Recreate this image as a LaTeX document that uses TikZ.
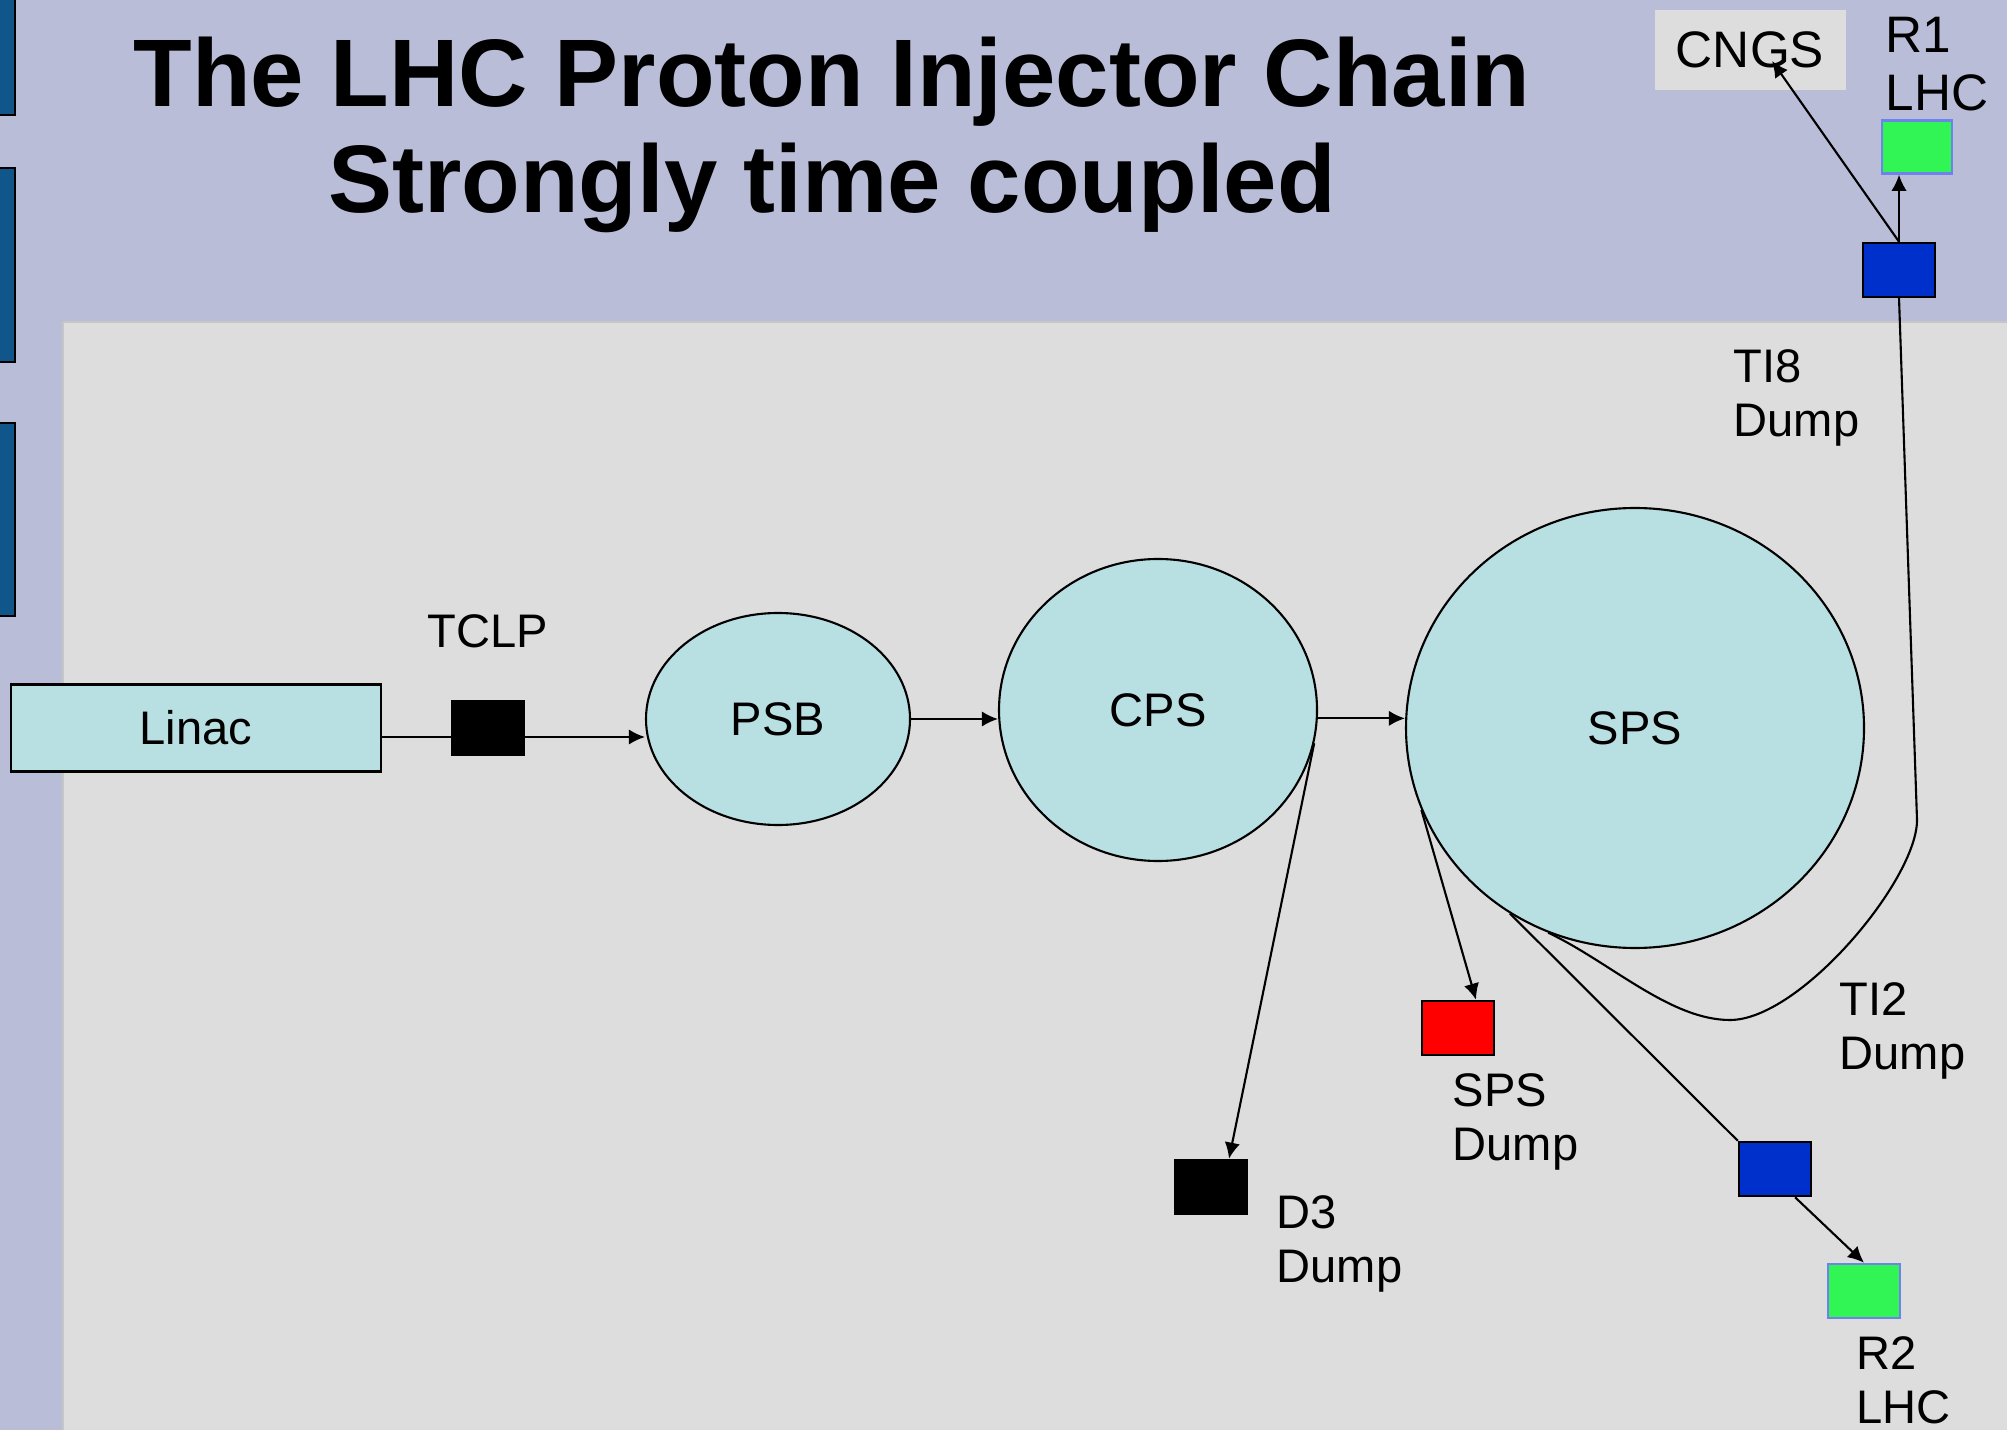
\documentclass[tikz,border=0pt]{standalone}
\usepackage{fontspec}
\setmainfont{Liberation Sans}
\usepackage{tikz}
\usetikzlibrary{shapes.geometric, arrows.meta, positioning}
\definecolor{slidebg}{RGB}{185, 189, 216}
\definecolor{panelbg}{RGB}{221, 221, 221}
\definecolor{panelrim}{RGB}{198, 198, 198}
\definecolor{ringfill}{RGB}{184, 224, 227}
\definecolor{barblue}{RGB}{16, 86, 138}
\definecolor{kickblue}{RGB}{0, 48, 204}
\definecolor{lhcgreen}{RGB}{48, 245, 85}
\definecolor{lhcrim}{RGB}{110, 130, 235}
\definecolor{dumpred}{RGB}{255, 0, 0}

\begin{document}
\begin{tikzpicture}[y=-1cm,
		ring/.style={ellipse, draw=black, line width=0.6pt, fill=ringfill, inner sep=0pt, font=\fontsize{13.4}{15.4}\selectfont},
		blk/.style={rectangle, draw=black, line width=0.7pt, minimum width=0.72cm, minimum height=0.54cm, inner sep=0pt},
		lbl/.style={font=\fontsize{13.4}{15.4}\selectfont, inner sep=0pt, align=left, anchor=north west},
		beam/.style={line width=0.6pt},
		feed/.style={beam, -{Latex[length=4.6pt, width=4.4pt]}}]
			\useasboundingbox (0,0) rectangle (20.07,14.30);

			% Slide background
			\fill[slidebg] (0,0) rectangle (20.07,14.30);
			\filldraw[fill=panelbg, draw=panelrim, line width=0.6pt] (0.63,3.22) rectangle (20.3,14.6);
			\filldraw[fill=barblue, draw=black, line width=0.6pt] (-0.1,-0.1) rectangle (0.15,1.15);
			\filldraw[fill=barblue, draw=black, line width=0.6pt] (-0.1,1.68) rectangle (0.15,3.62);
			\filldraw[fill=barblue, draw=black, line width=0.6pt] (-0.1,4.23) rectangle (0.15,6.16);

			\node[font=\bfseries\fontsize{27.3}{30.2}\selectfont, align=center, anchor=north, inner sep=0pt] (title) at (8.32,0.36) {The LHC Proton Injector Chain\\Strongly time coupled};

			% Machines
			\node[rectangle, draw=black, line width=0.6pt, fill=ringfill, minimum width=3.70cm, minimum height=0.87cm, font=\fontsize{13.4}{15.4}\selectfont] (linac) at (1.96,7.28) {Linac};
			\node[ring, minimum width=2.64cm, minimum height=2.12cm] (psb) at (7.78,7.19) {PSB};
			\node[ring, minimum width=3.18cm, minimum height=3.02cm] (cps) at (11.58,7.10) {CPS};
			\node[ring, minimum width=4.58cm, minimum height=4.40cm] (sps) at (16.35,7.28) {SPS};

			% Collimator, dumps, kickers, targets
			\node[blk, fill=black] (tclp) at (4.88,7.28) {};
			\node[blk, fill=black] (d3) at (12.11,11.87) {};
			\node[blk, fill=dumpred] (spsdump) at (14.58,10.28) {};
			\node[blk, fill=kickblue] (ti2kick) at (17.75,11.69) {};
			\node[blk, fill=lhcgreen, draw=lhcrim] (r2lhc) at (18.64,12.91) {};
			\node[blk, fill=kickblue] (ti8kick) at (18.99,2.70) {};
			\node[blk, fill=lhcgreen, draw=lhcrim, minimum width=0.70cm, minimum height=0.53cm] (r1lhc) at (19.17,1.47) {};
			\node[rectangle, fill=panelbg, minimum width=1.91cm, minimum height=0.80cm, inner sep=0pt, font=\fontsize{14.6}{16.8}\selectfont] (cngs) at (17.50,0.50) {CNGS};

			% Labels
			\node[lbl, anchor=center] (tclplbl) at (4.88,6.31) {TCLP};
			\node[lbl] (ti8lbl) at (17.33,3.49) {TI8\\Dump};
			\node[lbl] (ti2lbl) at (18.39,9.82) {TI2\\Dump};
			\node[lbl] (spslbl) at (14.52,10.73) {SPS\\Dump};
			\node[lbl] (d3lbl) at (12.76,11.95) {D3\\Dump};
			\node[lbl] (r2lbl) at (18.56,13.36) {R2\\LHC};
			\node[lbl, font=\fontsize{14.6}{16.5}\selectfont] (r1lbl) at (18.85,0.17) {R1\\LHC};

			% Beam lines
			\draw[beam] ([yshift=-0.09cm]linac.east) -- ([yshift=-0.09cm]linac.east -| tclp.west);
			\draw[feed] ([yshift=-0.09cm]tclp.east) -- ([yshift=-0.09cm]tclp.east -| psb.west);
			\draw[feed] (psb.east) -- (psb.east -| cps.west);
			\draw[feed] (cps.-3) -- (cps.-3 -| sps.west);
			\draw[feed] (cps.-12) -- ([xshift=0.18cm]d3.north);
			\draw[feed] (sps.201) -- ([xshift=0.18cm]spsdump.north);
			\draw[beam] (sps.236) -- (ti2kick.north west);
			\draw[feed] ([xshift=0.2cm]ti2kick.south) -- (r2lhc.north);
			\draw[beam] (sps.247) .. controls (16.10,9.62) and (16.70,10.20) .. (17.30,10.20)
				.. controls (18.00,10.20) and (19.17,8.80) .. (19.17,8.20) -- (ti8kick.south);
			\draw[feed] (ti8kick.north) -- (ti8kick.north |- r1lhc.south);
			\coordinate (cngsin) at (17.72,0.61);
			\draw[feed] (ti8kick.north) -- (cngsin);

		\end{tikzpicture}
\end{document}
